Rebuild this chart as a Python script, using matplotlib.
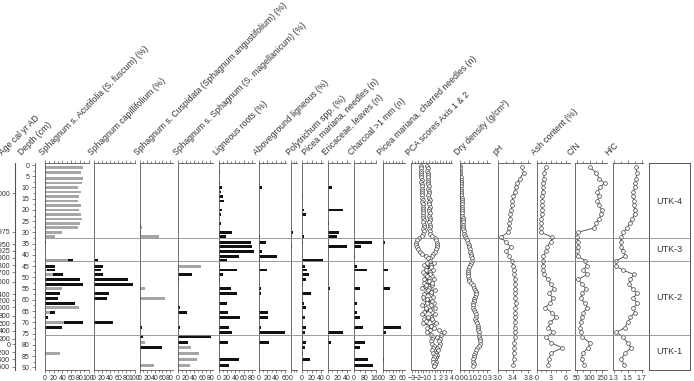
import numpy as np
import matplotlib
matplotlib.use("Agg")
import matplotlib.pyplot as plt

plt.rcParams['font.family'] = ['Liberation Sans', 'DejaVu Sans']

W, H = 694, 381
Y0, Y1 = 163, 370          # top / bottom rulers in pixels
YLIM = (91.2, -0.9)        # depth (cm) at bottom / top ruler

# ---- data -----------------------------------------------------------------
# sample depths (cm) of the macrofossil / chemistry samples
depth_cm = [1, 3.5, 6, 8, 10, 12, 14, 16, 18, 20, 22, 24, 26, 28, 30, 32,
            34.3, 36.4, 38.3, 40.5, 42.6, 45, 46.7, 48.7, 50.9, 53, 55, 57.1,
            59.3, 61.6, 63.5, 65.7, 67.8, 70, 72.3, 74.5, 76.4, 79.1, 81.3,
            83.8, 86.4, 89]
# 1-cm resolution depths for dry density and PCA
depth_fine = np.arange(0.5, 90, 1.0)

acut_gray = [88, 83, 88, 85, 75, 82, 78, 75, 83, 78, 83, 85, 81, 75, 38, 24,
             0, 0, 0, 0, 54, 0, 5, 19, 0, 0, 38, 0, 0, 0, 78, 12, 0, 44, 0, 0,
             0, 0, 0, 35, 0, 0]
acut_black = [0, 0, 0, 0, 0, 0, 0, 0, 0, 0, 0, 0, 0, 0, 0, 0,
              2, 1, 0, 0, 65, 23, 23, 42, 81, 88, 0, 35, 31, 69, 0, 23, 8, 88, 38, 0,
              0, 0, 0, 0, 0, 0]
capill_black = [0, 0, 0, 0, 0, 0, 0, 0, 0, 0, 0, 0, 0, 0, 0, 0,
                0, 0, 0, 0, 12, 24, 18, 22, 83, 96, 0, 38, 32, 0, 0, 0, 0, 47, 0, 0,
                0, 0, 0, 0, 0, 0]
cusp_gray = [0, 0, 0, 0, 0, 0, 0, 0, 0, 0, 0, 0, 0, 7, 4, 51,
             0, 0, 0, 0, 0, 0, 0, 0, 0, 0, 15, 0, 66, 0, 0, 0, 0, 0, 0, 0,
             0, 15, 0, 0, 0, 38]
cusp_black = [0, 0, 0, 0, 0, 0, 0, 0, 0, 0, 0, 0, 0, 0, 0, 0,
              0, 0, 0, 0, 0, 0, 0, 0, 0, 0, 0, 2, 0, 0, 0, 0, 0, 0, 7, 0,
              9, 0, 59, 0, 0, 0]
sphag_gray = [0, 0, 0, 0, 0, 0, 0, 0, 0, 0, 0, 0, 0, 0, 0, 0,
              0, 0, 0, 0, 0, 58, 0, 0, 0, 0, 0, 0, 0, 0, 0, 0, 0, 0, 0, 0,
              0, 0, 33, 52, 47, 29]
sphag_black = [0, 0, 0, 0, 0, 0, 0, 0, 0, 0, 0, 0, 0, 0, 0, 0,
               0, 0, 0, 0, 0, 0, 2, 35, 2, 0, 0, 0, 0, 0, 6, 23, 0, 0, 6, 0,
               83, 26, 0, 0, 0, 0]
roots = [2, 4, 2, 3, 9, 5, 10, 14, 2, 9, 5, 2, 5, 2, 33, 17,
         77, 79, 85, 50, 21, 3, 45, 10, 3, 2, 29, 45, 1, 21, 1, 23, 52, 2, 26, 32,
         0, 23, 0, 2, 48, 26]
above = [0, 0, 0, 0, 7, 0, 0, 0, 1, 1, 0, 0, 1, 0, 0, 3,
         16, 2, 9, 41, 3, 2, 19, 1, 0, 0, 6, 5, 0, 0, 0, 22, 22, 0, 6, 59,
         0, 24, 2, 0, 0, 0]
poly = [0, 0, 0, 0, 0, 0, 0, 0, 0, 0, 0, 0, 0, 0, 4, 0,
        0, 2, 0, 0, 0, 0, 0, 0, 0, 0, 0, 0, 0, 0, 0, 0, 0, 0, 0, 0,
        0, 0, 0, 0, 0, 0]
needles = [0, 0, 0, 0, 0, 0, 2, 0, 0, 4, 9, 1, 1, 1, 1, 4,
           3, 1, 0, 0, 43, 6, 11, 15, 8, 3, 1, 19, 1, 4, 8, 0, 6, 0, 9, 6,
           1, 8, 6, 2, 17, 1]
eric = [0, 1, 1, 1, 9, 2, 0, 0, 0, 32, 2, 0, 4, 0, 23, 19,
        0, 40, 2, 0, 0, 0, 2, 0, 0, 0, 5, 0, 0, 0, 0, 0, 1, 0, 2, 32,
        0, 8, 0, 0, 2, 0]
charcoal = [0, 0, 0, 0, 0, 0, 0, 0, 0, 0, 0, 0, 0, 0, 0, 0,
            127, 53, 0, 8, 0, 20, 96, 0, 0, 0, 46, 0, 0, 25, 0, 25, 46, 0, 66, 0,
            0, 80, 43, 0, 102, 140]
charred = [0, 0, 0, 0, 0, 0, 0, 0, 0, 0, 0, 0, 0, 0, 0, 0,
           5, 0, 0, 0, 0, 0, 15, 0, 0, 0, 23, 0, 0, 0, 0, 0, 0, 0, 55, 9,
           0, 0, 0, 0, 4, 0]

pca1 = [-1.5, -1.5, -1.4, -1.5, -1.4, -1.4, -1.3, -1.4, -1.3, -1.3,
        -1.3, -1.2, -1.3, -1.2, -1.2, -1.1, -1.2, -1.1, -1.1, -1.0,
        -1.1, -1.0, -1.0, -1.0, -0.9, -1.0, -0.9, -0.9, -1.0, -0.9,
        -1.0, -1.3, -1.7, -2.1, -2.3, -2.3, -2.2, -2.0, -1.6, -1.2,
        -0.6, -0.2, 0.1, -0.3, -0.8, 0.3, -0.5, -1.0, 0.2, -0.4,
        -0.9, 0.0, 0.6, -0.6, -1.2, -0.2, 0.4, -0.8, -1.1, -0.3,
        0.5, -0.4, -1.2, -0.6, 0.2, -0.9, -1.3, -0.2, 0.6, -0.5,
        -1.0, 0.3, 0.9, 0.2, -0.3, 0.4, 0.8, 0.5, 0.3, 0.6,
        0.9, 0.7, 0.5, 0.8, 1.0, 0.9, 0.7, 0.8, 1.0, 0.9]
pca2 = [-0.3, -0.2, -0.3, -0.2, -0.2, -0.1, -0.2, -0.1, -0.1, 0.0,
        -0.1, 0.0, 0.0, -0.1, 0.0, 0.1, 0.0, 0.0, 0.1, 0.0,
        0.0, 0.1, 0.0, 0.1, 0.1, 0.0, 0.1, 0.1, 0.0, 0.1,
        0.2, 0.6, 1.0, 1.3, 1.5, 1.5, 1.4, 1.3, 1.1, 0.8,
        0.5, 0.2, 0.0, 0.9, 0.3, -0.5, 0.8, 0.2, -0.7, 0.6,
        0.9, -0.3, -0.9, 0.5, 0.0, 1.0, -0.6, 0.4, 0.7, -0.8,
        -0.4, 0.9, 0.3, 1.0, -0.6, 0.5, 1.1, 0.3, -0.9, 0.7,
        1.2, 0.4, -0.4, 1.8, 2.6, 2.2, 1.5, 1.9, 1.7, 2.0,
        1.8, 1.4, 1.6, 1.2, 1.5, 1.3, 1.1, 1.2, 1.0, 0.9]
dry_density = [0.01, 0.01, 0.01, 0.01, 0.01, 0.015, 0.015, 0.015, 0.02, 0.02,
               0.02, 0.02, 0.02, 0.02, 0.025, 0.025, 0.025, 0.025, 0.03, 0.03,
               0.03, 0.03, 0.03, 0.035, 0.035, 0.035, 0.04, 0.04, 0.04, 0.045,
               0.05, 0.06, 0.07, 0.08, 0.09, 0.10, 0.10, 0.11, 0.11, 0.12,
               0.12, 0.13, 0.13, 0.12, 0.11, 0.10, 0.09, 0.09, 0.09, 0.09,
               0.10, 0.10, 0.12, 0.15, 0.16, 0.17, 0.18, 0.18, 0.17, 0.16,
               0.16, 0.15, 0.15, 0.15, 0.16, 0.17, 0.18, 0.18, 0.17, 0.18,
               0.19, 0.20, 0.20, 0.20, 0.21, 0.21, 0.21, 0.22, 0.22, 0.22,
               0.21, 0.19, 0.18, 0.17, 0.16, 0.16, 0.15, 0.15, 0.16, 0.15]
ph = [3.63, 3.68, 3.58, 3.50, 3.47, 3.44, 3.40, 3.38, 3.37, 3.35, 3.33, 3.31,
      3.30, 3.28, 3.26, 3.08, 3.20, 3.34, 3.22, 3.30, 3.36, 3.40, 3.42, 3.43,
      3.44, 3.45, 3.46, 3.46, 3.46, 3.47, 3.46, 3.46, 3.45, 3.45, 3.44, 3.44,
      3.44, 3.43, 3.43, 3.42, 3.42, 3.41]
ash = [1.9, 1.6, 1.5, 1.4, 1.3, 1.3, 1.2, 1.2, 1.1, 1.1, 1.1, 1.0, 1.0, 1.0,
       0.9, 3.2, 2.9, 2.1, 2.0, 1.4, 1.4, 1.3, 1.4, 1.5, 2.3, 2.9, 3.6, 2.6,
       3.4, 2.7, 1.8, 3.2, 4.0, 2.8, 2.4, 3.4, 2.0, 3.0, 5.3, 2.9, 2.6, 2.4]
cn = [102, 126, 139, 160, 142, 131, 139, 131, 138, 149, 145, 139, 126, 118,
      52, 50, 52, 55, 50, 54, 83, 88, 75, 90, 55, 70, 86, 71, 64, 83, 91, 75,
      68, 64, 62, 66, 70, 102, 95, 72, 68, 79]
hc = [1.62, 1.63, 1.62, 1.61, 1.60, 1.58, 1.57, 1.59, 1.59, 1.60, 1.60, 1.56,
      1.53, 1.49, 1.44, 1.41, 1.40, 1.41, 1.44, 1.46, 1.34, 1.33, 1.43, 1.59,
      1.54, 1.52, 1.57, 1.63, 1.58, 1.64, 1.58, 1.60, 1.54, 1.50, 1.46, 1.34,
      1.43, 1.50, 1.55, 1.46, 1.41, 1.45]

age_labels = ["2000", "1975", "1950", "1925", "1900", "1800", "1700", "1600",
              "1400", "1200", "1000", "800", "600", "400", "200", "0",
              "-200", "-400", "-600"]
age_depth = [12.6, 29.7, 35.2, 38.1, 41.2, 44.7, 47.6, 51.9, 57.6, 60.2,
             63.2, 67.1, 70.5, 73.7, 77.2, 79.8, 83.4, 86.5, 89.8]

zone_names = ["UTK-4", "UTK-3", "UTK-2", "UTK-1"]
zone_bounds = [0, 32.4, 42.6, 75.7, 90]

# ---- helpers ----------------------------------------------------------------
fig = plt.figure(figsize=(W / 100, H / 100), dpi=100)
AX_COL = '#555555'
TXT_COL = '#333333'


def px_axes(x0, x1):
    ax = fig.add_axes([x0 / W, 1 - Y1 / H, (x1 - x0) / W, (Y1 - Y0) / H])
    ax.set_ylim(*YLIM)
    ax.patch.set_alpha(0)
    return ax


def panel(x0, x1, xlim, major, minor, fmt=None):
    ax = px_axes(x0, x1)
    ax.set_xlim(*xlim)
    ax.spines['right'].set_visible(False)
    for s in ('left', 'top', 'bottom'):
        ax.spines[s].set_color(AX_COL)
        ax.spines[s].set_linewidth(0.6)
    ax.set_xticks(major)
    ax.set_xticks(minor, minor=True)
    if fmt:
        ax.set_xticklabels([fmt.format(v) for v in major])
    ax.set_yticks([])
    ax.tick_params(axis='x', which='both', direction='out', top=True,
                   bottom=True, labeltop=False, labelbottom=True,
                   labelsize=5, width=0.5, colors=AX_COL, labelcolor=TXT_COL,
                   pad=1.5)
    ax.tick_params(axis='x', which='major', length=2.2)
    ax.tick_params(axis='x', which='minor', length=1.2)
    return ax


def bars(ax, vals, color):
    ax.barh(depth_cm, vals, height=1.3, color=color, linewidth=0)


def curve(ax, d, vals, col='#444444'):
    ax.plot(vals, d, color=col, lw=0.6, marker='o', ms=2.7, mfc='white',
            mec='#444444', mew=0.5)


BLACK = '#111111'
GRAY = '#a6a6a6'

# ---- bar panels ---------------------------------------------------------------
ax = panel(45, 88.5, (0, 100), range(0, 101, 20), range(0, 101, 10))
bars(ax, acut_black, BLACK)
bars(ax, acut_gray, GRAY)

ax = panel(93.5, 134.5, (0, 100), range(0, 101, 20), range(0, 101, 10))
bars(ax, capill_black, BLACK)

ax = panel(139.5, 173, (0, 88), range(0, 81, 20), range(0, 88, 10))
bars(ax, cusp_black, BLACK)
bars(ax, cusp_gray, GRAY)

ax = panel(178, 213, (0, 87), range(0, 81, 20), range(0, 87, 10))
bars(ax, sphag_black, BLACK)
bars(ax, sphag_gray, GRAY)

ax = panel(218.5, 255, (0, 87), range(0, 81, 20), range(0, 87, 10))
bars(ax, roots, BLACK)

ax = panel(258.5, 286, (0, 62), range(0, 61, 20), range(0, 62, 10))
bars(ax, above, BLACK)

ax = panel(291, 297, (0, 12), [0], [5, 10])
bars(ax, poly, BLACK)

ax = panel(302, 322.5, (0, 43), [0, 20, 40], range(0, 43, 10))
bars(ax, needles, BLACK)

ax = panel(327.5, 349.5, (0, 46), [0, 20, 40], range(0, 46, 10))
bars(ax, eric, BLACK)

ax = panel(354, 376.5, (0, 163), [0, 80, 160], range(0, 163, 40))
bars(ax, charcoal, BLACK)

ax = panel(383, 405, (0, 69), [0, 30, 60], range(0, 69, 10))
bars(ax, charred, BLACK)

# ---- curve panels -------------------------------------------------------------
ax = panel(411, 452, (-3.2, 4.1), range(-3, 5), np.arange(-3, 4.1, 0.5))
curve(ax, depth_fine, pca2, '#888888')
curve(ax, depth_fine, pca1, '#222222')

ax = panel(459.5, 490, (0, 0.33), [0, 0.1, 0.2, 0.3],
           np.arange(0, 0.33, 0.05), fmt='{:.1f}')
curve(ax, depth_fine, dry_density)

ax = panel(498, 530, (3.0, 3.85), [3.0, 3.4, 3.8], np.arange(3.0, 3.85, 0.2),
           fmt='{:.1f}')
curve(ax, depth_cm, ph)

ax = panel(536.5, 570, (0, 6.9), [0, 3, 6], range(0, 7, 1))
curve(ax, depth_cm, ash)

ax = panel(574.5, 607, (40, 170), [50, 100, 150], range(50, 170, 25))
curve(ax, depth_cm, cn)

ax = panel(613, 643, (1.29, 1.72), [1.3, 1.5, 1.7], np.arange(1.3, 1.72, 0.1),
           fmt='{:.1f}')
curve(ax, depth_cm, hc)

# ---- zone box -------------------------------------------------------------------
zax = px_axes(649, 690)
zax.set_xlim(0, 1)
zax.set_xticks([])
zax.set_yticks([])
for s in zax.spines.values():
    s.set_color(AX_COL)
    s.set_linewidth(0.7)
for i, name in enumerate(zone_names):
    mid = (zone_bounds[i] + zone_bounds[i + 1]) / 2
    zax.text(0.5, mid, name, ha='center', va='center', fontsize=6.5,
             color=TXT_COL)

# zone boundaries drawn across all panels
lax = px_axes(45, 690)
lax.set_xlim(0, 1)
lax.axis('off')
for b in zone_bounds[1:-1]:
    lax.axhline(b, color='#8c8c8c', lw=0.6)

# ---- depth and age axes ---------------------------------------------------------
dax = px_axes(35, 36)
for s in ('right', 'top', 'bottom'):
    dax.spines[s].set_visible(False)
dax.spines['left'].set_color(AX_COL)
dax.spines['left'].set_linewidth(0.6)
dax.set_xticks([])
dax.set_yticks(range(0, 91, 5))
dax.set_yticks(np.arange(0, 91, 2.5), minor=True)
dax.tick_params(axis='y', which='both', labelsize=5, colors=AX_COL,
                labelcolor=TXT_COL, width=0.5, pad=1.5)
dax.tick_params(axis='y', which='major', length=2.5)
dax.tick_params(axis='y', which='minor', length=1.3)

aax = px_axes(15, 16)
for s in ('right', 'top', 'bottom'):
    aax.spines[s].set_visible(False)
aax.spines['left'].set_color(AX_COL)
aax.spines['left'].set_linewidth(0.8)
aax.set_xticks([])
aax.set_yticks(age_depth)
aax.set_yticklabels(age_labels)
aax.tick_params(axis='y', labelsize=5, colors=AX_COL, labelcolor=TXT_COL,
                width=0.5, length=2.5, pad=1)

# ---- rotated headers ------------------------------------------------------------
headers = [
    (4, "Age cal yr AD"),
    (23, "Depth (cm)"),
    (44, "Sphagnum s. Acutifolia (S. fuscum) (%)"),
    (93, "Sphagnum capillifolium (%)"),
    (139, "Sphagnum s. Cuspidata (Sphagnum angustifolium) (%)"),
    (178, "Sphagnum s. Sphagnum (S. magellanicum) (%)"),
    (218, "Ligneous roots (%)"),
    (258, "Aboveground ligneous (%)"),
    (291, "Polytrichum spp. (%)"),
    (307, "Picea mariana, needles (n)"),
    (327, "Ericaceae, leaves (n)"),
    (353, "Charcoal >1 mm (n)"),
    (382, "Picea mariana, charred needles (n)"),
    (410, "PCA scores Axis 1 & 2"),
    (459, "Dry density (g/cm³)"),
    (497, "pH"),
    (536, "Ash content (%)"),
    (572, "C/N"),
    (610, "H/C"),
]
for hx, txt in headers:
    fig.text(hx / W, 1 - 157 / H, txt, rotation=45, rotation_mode='anchor',
             ha='left', va='bottom', fontsize=6.2, color=TXT_COL)

fig.savefig("out.png", dpi=100)
